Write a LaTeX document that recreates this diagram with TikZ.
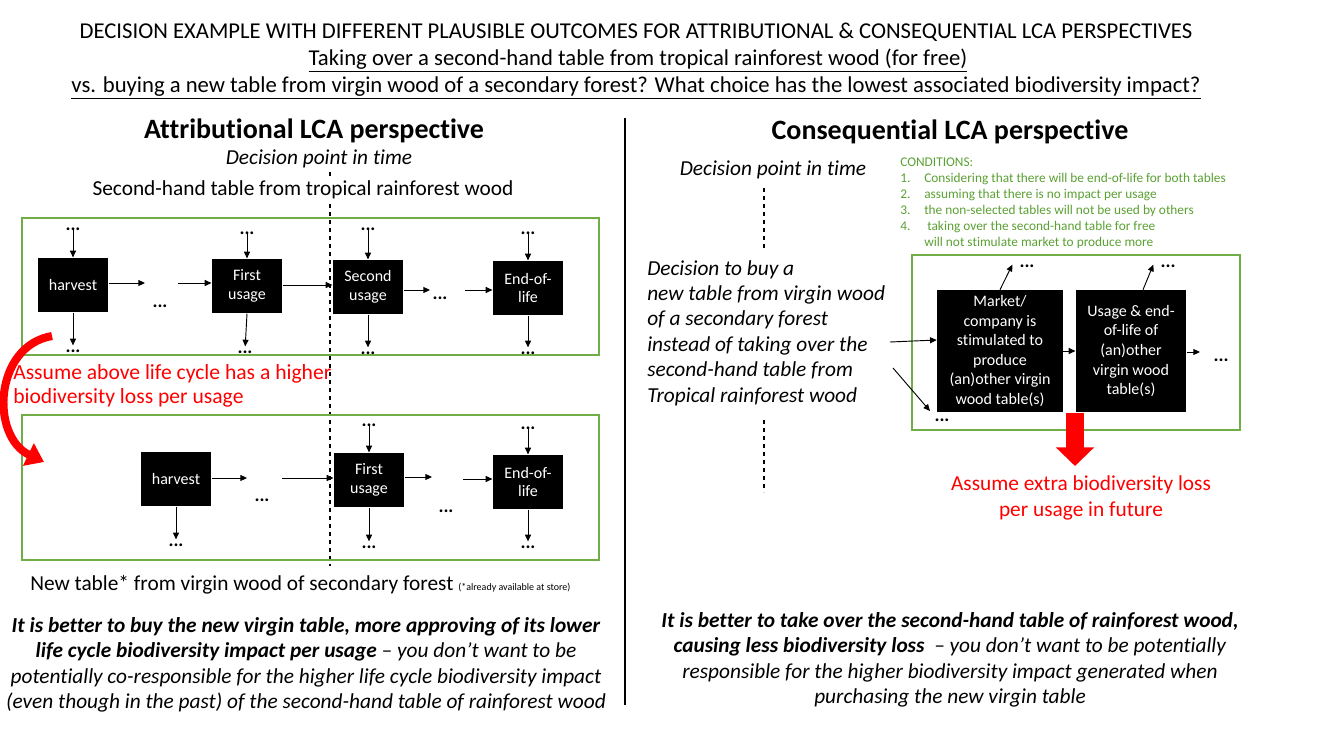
\documentclass[tikz,border=0pt]{standalone}
\usepackage{fontspec}
\setmainfont{Carlito}[Ligatures=NoCommon]
\usetikzlibrary{arrows.meta}
\definecolor{lcagreen}{RGB}{112,173,71}
\definecolor{condgreen}{RGB}{90,160,50}
\tikzset{
  proc/.style={fill=black, text=white, align=center, inner sep=1pt, font=\fontsize{12}{14}\selectfont},
  dts/.style={inner sep=0pt, font=\bfseries\fontsize{14}{14}\selectfont},
  flow/.style={-{Triangle[length=5pt,width=4.5pt]}, line width=0.7pt},
  grnbox/.style={draw=lcagreen, line width=1.2pt},
  txt/.style={inner sep=0pt, font=\fontsize{16}{19}\selectfont},
}
\newcommand{\tdots}{...}
\begin{document}
\begin{tikzpicture}[x=0.75pt,y=0.75pt,yscale=-1,xscale=1]
	\useasboundingbox (0,0) rectangle (1325,731);
	% title
	\node[inner sep=0pt, font=\fontsize{17}{19}\selectfont] (title1) at (636,32) {DECISION EXAMPLE WITH DIFFERENT PLAUSIBLE OUTCOMES FOR ATTRIBUTIONAL \& CONSEQUENTIAL LCA PERSPECTIVES};
	\node[inner sep=0pt, font=\fontsize{17}{19}\selectfont] (title2) at (638,60) {\underline{Taking over a second-hand table from tropical rainforest wood (for free)}};
	\node[inner sep=0pt, font=\fontsize{17}{19}\selectfont] (title3) at (636,88) {\underline{vs. buying a new table from virgin wood of a secondary forest? What choice has the lowest associated biodiversity impact?}};
	\coordinate (divtop) at (625,118);
	\coordinate (divbot) at (625,705);
	\draw[line width=1pt] (divtop) -- (divbot);

	% attributional
	\node[inner sep=0pt, font=\bfseries\fontsize{21}{24}\selectfont] (attr) at (314,131) {Attributional LCA perspective};
	\node[txt, font=\itshape\fontsize{16}{19}\selectfont] (dptA) at (319,159) {Decision point in time};
	\coordinate (dlA) at (330,566);
	\draw[dashed, line width=0.8pt] (dptA.south -| dlA) ++(0,4) -- (dlA);
	\node[txt, fill=white, inner ysep=3pt] (oldtab) at (303,190) {Second-hand table from tropical rainforest wood};

	\draw[grnbox] (22,218) rectangle (599,355);
	\draw[grnbox] (22,415) rectangle (599,560);

	% first life cycle
	\node[proc, minimum width=53pt, minimum height=41pt] (hv1) at (73,285) {harvest};
	\node[proc, minimum width=53pt, minimum height=41pt] (fu1) at (247,286) {First\\usage};
	\node[proc, minimum width=53pt, minimum height=41pt] (su1) at (368,287) {Second\\usage};
	\node[proc, minimum width=53pt, minimum height=41pt] (eol1) at (528,288) {End-of-\\life};
	\node[dts] (hv1in) at (73,229) {\tdots};
	\node[dts] (fu1in) at (247,233) {\tdots};
	\node[dts] (su1in) at (368,229) {\tdots};
	\node[dts] (eol1in) at (528,233) {\tdots};
	\node[dts] (hv1out) at (73,351) {\tdots};
	\node[dts] (fu1out) at (245,352) {\tdots};
	\node[dts] (su1out) at (368,353) {\tdots};
	\node[dts] (eol1out) at (528,353) {\tdots};
	\node[dts] (mid1) at (160,306) {\tdots};
	\node[dts] (mid2) at (440,298) {\tdots};
	\coordinate (m1a) at (145,283);
	\coordinate (m1b) at (178,283);
	\coordinate (m2a) at (430,290);
	\coordinate (m2b) at (465,290);
	\draw[flow] (hv1.east |- m1a) -- (m1a);
	\draw[flow] (m1b) -- (fu1.west |- m1b);
	\draw[flow] (fu1.east |- 0,285) -- (su1.west |- 0,285);
	\draw[flow] (su1.east |- m2a) -- (m2a);
	\draw[flow] (m2b) -- (eol1.west |- m2b);
	\foreach \n in {hv1,fu1,su1,eol1}{
		\draw[flow] (\n in.center) -- (\n.north);
		\draw[flow, shorten >=3pt] (\n.south) -- (\n out.north);
	}

	% red note
	\node[txt, anchor=north west, align=left, text=red, font=\fontsize{16.2}{18}\selectfont] (note) at (13,364) {Assume above life cycle has a higher\\biodiversity loss per usage};
	\coordinate (crvA) at (52,336);
	\coordinate (crvB) at (44,462);
	\draw[red, line width=6pt, -{Triangle[length=13pt,width=18pt]}] (crvA) .. controls (-6,346) and (-10,436) .. (crvB);

	% second life cycle
	\node[proc, minimum width=53pt, minimum height=41pt] (hv2) at (176,479) {harvest};
	\node[proc, minimum width=53pt, minimum height=41pt] (fu2) at (369,480) {First\\usage};
	\node[proc, minimum width=53pt, minimum height=41pt] (eol2) at (528,482) {End-of-\\life};
	\node[dts] (fu2in) at (369,425) {\tdots};
	\node[dts] (eol2in) at (528,428) {\tdots};
	\node[dts] (hv2out) at (176,545) {\tdots};
	\node[dts] (fu2out) at (369,547) {\tdots};
	\node[dts] (eol2out) at (528,547) {\tdots};
	\node[dts] (mid3) at (262,500) {\tdots};
	\node[dts] (mid4) at (446,511) {\tdots};
	\coordinate (m3a) at (247,478);
	\coordinate (m3b) at (282,478);
	\coordinate (m4a) at (432,477);
	\coordinate (m4b) at (463,479);
	\draw[flow] (hv2.east |- m3a) -- (m3a);
	\draw[flow] (m3b) -- (fu2.west |- m3b);
	\draw[flow] (fu2.east |- m4a) -- (m4a);
	\draw[flow] (m4b) -- (eol2.west |- m4b);
	\foreach \n in {fu2,eol2}{
		\draw[flow] (\n in.center) -- (\n.north);
	}
	\foreach \n in {hv2,fu2,eol2}{
		\draw[flow, shorten >=3pt] (\n.south) -- (\n out.north);
	}

	\node[txt, anchor=west] (newtab) at (30,585) {New table* from virgin wood of secondary forest {\fontsize{7.5}{8}\selectfont(*already available at store)}};

	\node[txt, align=center] (concA) at (306,665) {\textbf{\textit{It is better to buy the new virgin table, more approving of its lower}}\\\textbf{\textit{life cycle biodiversity impact per usage}} \textit{-- you don’t want to be}\\\textit{potentially co-responsible for the higher life cycle biodiversity impact}\\\textit{(even though in the past) of the second-hand table of rainforest wood}};

	% consequential
	\node[inner sep=0pt, font=\bfseries\fontsize{21}{24}\selectfont] (cons) at (950,132) {Consequential LCA perspective};
	\node[txt, font=\itshape\fontsize{16}{19}\selectfont] (dptC) at (773,170) {Decision point in time};
	\coordinate (dlC1) at (764,188);
	\coordinate (dlC2) at (764,250);
	\coordinate (dlC3) at (764,420);
	\coordinate (dlC4) at (764,492);
	\draw[dashed, line width=0.8pt] (dlC1) -- (dlC2);
	\draw[dashed, line width=0.8pt] (dlC3) -- (dlC4);
	\node[txt, anchor=west, align=left, font=\itshape\fontsize{16}{19.1}\selectfont] (decis) at (647,333) {Decision to buy a\\new table from virgin wood\\of a secondary forest\\instead of taking over the\\second-hand table from\\Tropical rainforest wood};

	\node[inner sep=0pt, anchor=north west, align=left, text=condgreen, font=\fontsize{10}{12}\selectfont] (cond) at (900,158) {CONDITIONS:\\\makebox[18pt][l]{1.}Considering that there will be end-of-life for both tables\\\makebox[18pt][l]{2.}assuming that there is no impact per usage\\\makebox[18pt][l]{3.}the non-selected tables will not be used by others\\\makebox[18pt][l]{4.}\ taking over the second-hand table for free\\\makebox[18pt][l]{}will not stimulate market to produce more};

	\draw[grnbox] (912,255) rectangle (1240,430);
	\node[proc, minimum width=94.5pt, minimum height=91.5pt, font=\fontsize{12}{14.7}\selectfont] (mkt) at (1000,351) {Market/\\company is\\stimulated to\\produce\\(an)other virgin\\wood table(s)};
	\node[proc, minimum width=83pt, minimum height=91.5pt, font=\fontsize{12}{14.7}\selectfont] (use) at (1131,351) {Usage \& end-\\of-life of\\(an)other\\virgin wood\\table(s)};
	\node[dts] (mktup) at (1027,266) {\tdots};
	\node[dts] (useup) at (1168,266) {\tdots};
	\node[dts] (useout) at (1221,360) {\tdots};
	\node[dts] (mktlow) at (942,420) {\tdots};
	\coordinate (inA) at (890,342);
	\coordinate (inB) at (893,368);
	\coordinate (inBend) at (930,411);
	\coordinate (useend) at (1200,352);
	\draw[flow] (inA) -- (mkt.west |- 0,340);
	\draw[flow] (inB) -- (inBend);
	\draw[flow] (mkt.east |- 0,351) -- (use.west |- 0,351);
	\draw[flow] (use.east |- useend) -- (useend);
	\draw[flow] (mkt.north) -- ([xshift=-11pt,yshift=-1pt]mktup.center);
	\draw[flow] ([xshift=9pt]use.north) -- ([xshift=-11pt,yshift=-1pt]useup.center);

	\coordinate (bigA) at (1075,413);
	\coordinate (bigB) at (1075,466);
	\draw[red, line width=14pt, -{Triangle[length=14pt,width=28pt]}] (bigA) -- (bigB);
	\node[txt, align=center, text=red] (noteC) at (1081,498) {Assume extra biodiversity loss\\per usage in future};

	\node[txt, align=center] (concC) at (950,660) {\textbf{\textit{It is better to take over the second-hand table of rainforest wood,}}\\\textbf{\textit{causing less biodiversity loss}}\ \ \textit{-- you don’t want to be potentially}\\\textit{responsible for the higher biodiversity impact generated when}\\\textit{purchasing the new virgin table}};
\end{tikzpicture}
\end{document}
